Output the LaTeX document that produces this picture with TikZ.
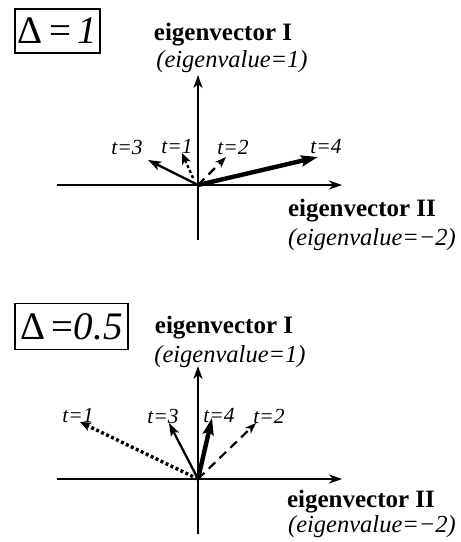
\documentclass[tikz,border=0pt]{standalone}
\usepackage{fontspec}
\setmainfont{Liberation Serif}
\usetikzlibrary{arrows.meta}
\begin{document}
\begin{tikzpicture}[x=1pt,y=-1pt,
  axis/.style={line width=2.4pt,-{Stealth[length=13pt,width=9pt,inset=4pt]}},
  vec/.style={line width=2.3pt,-{Stealth[length=13pt,width=9pt,inset=3pt]}},
  thickvec/.style={line width=4.4pt,-{Stealth[length=17pt,width=11pt,inset=3pt]}},
  dashvec/.style={line width=2.2pt,dash pattern=on 9pt off 6pt,-{Stealth[length=11pt,width=8pt,inset=3pt]}},
  dotvec/.style={line width=3.4pt,dash pattern=on 3pt off 2.5pt,-{Stealth[length=11pt,width=9pt,inset=3pt]}},
  tlab/.style={inner sep=0pt,font=\fontsize{21.5}{24}\selectfont\itshape},
  evlab/.style={inner sep=0pt,font=\fontsize{25}{28}\selectfont\bfseries},
  evallab/.style={inner sep=0pt,font=\fontsize{24.5}{28}\selectfont\itshape},
  deltabox/.style={draw,line width=1.8pt,inner sep=0pt,font=\fontsize{39}{42}\selectfont}
]
\useasboundingbox (0,0) rectangle (461,542);
% ---------- top panel ----------
\node[deltabox,minimum width=85pt,minimum height=44pt] (boxA) at (57.5,31) {Δ\,=\,\textit{1}};
\coordinate (oA) at (198,185);
\coordinate (yA) at (198,75);
\coordinate (ybA) at (198,240);
\coordinate (xlA) at (57,185);
\coordinate (xA) at (342,185);
\draw[axis] (ybA) -- (yA);
\draw[axis] (xlA) -- (xA);
\coordinate (tA3) at (148,160);
\coordinate (tA1s) at (193,178);
\coordinate (tA1) at (182,153);
\coordinate (tA2) at (226,157);
\coordinate (tA4) at (318,157);
\draw[vec] (oA) -- (tA3);
\draw[dotvec,line width=2.4pt] (tA1s) -- (tA1);
\draw[dashvec] (oA) -- (tA2);
\draw[thickvec] (oA) -- (tA4);
\node[tlab] (lA3) at (127,147) {t=3};
\node[tlab] (lA1) at (177,147) {t=1};
\node[tlab] (lA2) at (233,147) {t=2};
\node[tlab] (lA4) at (326,147) {t=4};
\node[evlab] (eA1) at (223,35) {eigenvector I};
\node[evallab] (vA1) at (232,62) {(eigenvalue=1)};
\node[evlab] (eA2) at (362,211) {eigenvector II};
\node[evallab] (vA2) at (372,240) {(eigenvalue=−2)};
% ---------- bottom panel ----------
\node[deltabox,minimum width=113pt,minimum height=46pt] (boxB) at (71.5,326.5) {Δ\,=\textit{0.5}};
\coordinate (oB) at (198,479);
\coordinate (yB) at (198,366);
\coordinate (ybB) at (198,534);
\coordinate (xlB) at (57,479);
\coordinate (xB) at (342,479);
\draw[axis] (ybB) -- (yB);
\draw[axis] (xlB) -- (xB);
\coordinate (tB1) at (80,422);
\coordinate (tB3) at (169,423);
\coordinate (tB4) at (212,418);
\coordinate (tB2) at (256,423);
\draw[dotvec] (oB) -- (tB1);
\draw[vec] (oB) -- (tB3);
\draw[thickvec] (oB) -- (tB4);
\draw[dashvec] (oB) -- (tB2);
\node[tlab] (lB1) at (78,416) {t=1};
\node[tlab] (lB3) at (163,416) {t=3};
\node[tlab] (lB4) at (219,416) {t=4};
\node[tlab] (lB2) at (269,416) {t=2};
\node[evlab] (eB1) at (224,328) {eigenvector I};
\node[evallab] (vB1) at (230,357) {(eigenvalue=1)};
\node[evlab] (eB2) at (361,502) {eigenvector II};
\node[evallab] (vB2) at (372,527) {(eigenvalue=−2)};
\end{tikzpicture}
\end{document}
